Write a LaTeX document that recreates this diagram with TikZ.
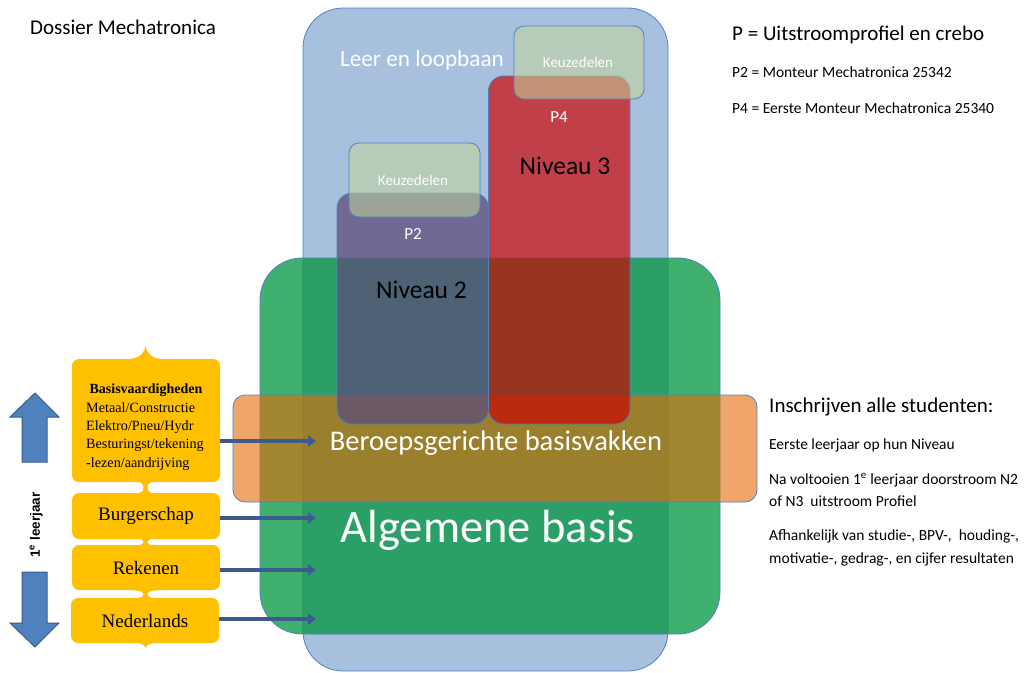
\documentclass[tikz,border=0pt]{standalone}
\usepackage{fontspec}
\setmainfont{Carlito}
\newfontfamily\camb{Liberation Serif}
\newfontfamily\arl{Liberation Sans}
\usetikzlibrary{fit,arrows.meta}
\definecolor{bluef}{RGB}{79,129,189}
\definecolor{greenf}{RGB}{0,150,63}
\definecolor{orangef}{RGB}{230,107,7}
\definecolor{redf}{RGB}{204,0,0}
\definecolor{purplef}{RGB}{92,77,122}
\definecolor{keuzef}{RGB}{195,214,155}
\definecolor{yel}{RGB}{255,192,0}
\definecolor{arrowc}{RGB}{60,90,140}
\definecolor{edgec}{RGB}{79,129,189}
\definecolor{bigarrowedge}{RGB}{56,93,138}
\tikzset{
  region/.style={fit={#1}, inner sep=0pt, draw=edgec, line width=0.8pt},
  ybox/.style={fit={#1}, inner sep=0pt, fill=yel, rounded corners=7pt},
  wlabel/.style={text=white, inner sep=0pt, anchor=base},
  blabel/.style={text=black, inner sep=0pt, anchor=base},
  sidetext/.style={text=black, inner sep=0pt, anchor=base west},
  conn/.style={draw=arrowc, line width=4pt, -{Triangle[length=8pt,width=11pt]}},
  bigarrow/.style={fill=bluef, draw=bigarrowedge, line width=1pt},
}
\newcommand{\neck}[2]{%
  \fill[yel] (128,#1) .. controls (141,#1) and (143.5,#1+2) .. (143.5,{(#1+#2)/2})
    .. controls (143.5,#2-2) and (141,#2) .. (128,#2) -- (163,#2)
    .. controls (150,#2) and (147.5,#2-2) .. (147.5,{(#1+#2)/2})
    .. controls (147.5,#1+2) and (150,#1) .. (163,#1) -- cycle;}
\begin{document}
\begin{tikzpicture}[x=1pt,y=-1pt]
\useasboundingbox (0,0) rectangle (1025,672);
% big regions
\node[region={(303,8) (668,671)}, fill=bluef, fill opacity=0.5, rounded corners=40pt] (ll) {};
\node[region={(260,258) (720,634)}, fill=greenf, fill opacity=0.75, rounded corners=42pt] (ab) {};
\node[region={(233,395) (757,502)}, fill=orangef, fill opacity=0.6, rounded corners=12pt] (bb) {};
\node[region={(337,193) (488.5,424)}, fill=purplef, fill opacity=0.75, rounded corners=15pt] (n2) {};
\node[region={(488.5,76) (630,424)}, fill=redf, fill opacity=0.67, rounded corners=15pt] (n3) {};
\node[region={(349,143) (480,217)}, fill=keuzef, fill opacity=0.55, rounded corners=10pt] (k2) {};
\node[region={(514,26) (644,99)}, fill=keuzef, fill opacity=0.55, rounded corners=10pt] (k4) {};
% labels in regions
\node[wlabel, font=\fontsize{23.2}{26}\selectfont] (llt) at (422,66.5) {Leer en loopbaan};
\node[wlabel, font=\fontsize{15}{18}\selectfont] (k4t) at (578,67.5) {Keuzedelen};
\node[wlabel, font=\fontsize{15}{18}\selectfont] (k2t) at (413,185.5) {Keuzedelen};
\node[wlabel, font=\fontsize{17}{20}\selectfont] (p4) at (559,122) {P4};
\node[wlabel, font=\fontsize{17}{20}\selectfont] (p2) at (413,239) {P2};
\node[blabel, font=\fontsize{25.5}{30}\selectfont] (n3t) at (565,174) {Niveau 3};
\node[blabel, font=\fontsize{25.5}{30}\selectfont] (n2t) at (421.5,298) {Niveau 2};
\node[wlabel, font=\fontsize{28.5}{32}\selectfont] (bbt) at (496,450) {Beroepsgerichte basisvakken};
\node[wlabel, font=\fontsize{46.5}{50}\selectfont] (abt) at (488,542) {Algemene basis};
% yellow list
\fill[yel] (130,359) .. controls (140,358) and (145,352) .. (145.5,346) .. controls (146,352) and (151,358) .. (161,359) -- cycle;
\neck{481}{494}
\neck{538}{546}
\neck{590}{598.5}
\fill[yel] (132,642) .. controls (141,643) and (145,645) .. (145.5,648) .. controls (146,645) and (150,643) .. (159,642) -- cycle;
\node[ybox={(72,359) (220,482)}] (basis) {};
\node[ybox={(72,493) (220,539)}] (burg) {};
\node[ybox={(72,545) (220,590)}] (rek) {};
\node[ybox={(71,598) (219,643)}] (ned) {};
\node[inner sep=0pt, anchor=base, font=\camb\bfseries\fontsize{14}{16}\selectfont] (basist) at (146,393) {Basisvaardigheden};
\node[inner sep=0pt, anchor=north west, align=left, font=\camb\fontsize{14.2}{18.4}\selectfont] (basisl) at (86,402) {Metaal/Constructie\\Elektro/Pneu/Hydr\\Besturingst/tekening\\-lezen/aandrijving};
\node[inner sep=0pt, font=\camb\fontsize{19}{22}\selectfont] (burgt) at (burg) {Burgerschap};
\node[inner sep=0pt, font=\camb\fontsize{19}{22}\selectfont] (rekt) at (rek) {Rekenen};
\node[inner sep=0pt, font=\camb\fontsize{19}{22}\selectfont] (nedt) at (ned) {Nederlands};
% connectors
\coordinate (e1) at (316,441);
\coordinate (e2) at (316,518);
\coordinate (e3) at (316,570);
\coordinate (e4) at (316,619);
\draw[conn] (basis.east |- e1) -- (e1);
\draw[conn] (burg.east |- e2) -- (e2);
\draw[conn] (rek.east |- e3) -- (e3);
\draw[conn] (ned.east |- e4) -- (e4);
% big arrows
\draw[bigarrow] (35,393) -- (59,417) -- (47,417) -- (47,462) -- (22,462) -- (22,417) -- (10,417) -- cycle;
\draw[bigarrow] (22,572) -- (47,572) -- (47,623) -- (59,623) -- (35,647) -- (10,623) -- (22,623) -- cycle;
\node[rotate=90, inner sep=0pt, font=\arl\bfseries\fontsize{13.5}{16}\selectfont] (lj) at (36,525) {1\textsuperscript{e} leerjaar};
% side texts
\node[sidetext, font=\fontsize{21}{24}\selectfont] (title) at (30,34.5) {Dossier Mechatronica};
\node[sidetext, font=\fontsize{21}{24}\selectfont] (leg) at (732,40) {P = Uitstroomprofiel en crebo};
\node[sidetext, font=\fontsize{15.5}{18}\selectfont] (leg2) at (732,77) {P2 = Monteur Mechatronica 25342};
\node[sidetext, font=\fontsize{15.5}{18}\selectfont] (leg4) at (732,113) {P4 = Eerste Monteur Mechatronica 25340};
\node[sidetext, font=\fontsize{21}{24}\selectfont] (ins) at (769,412) {Inschrijven alle studenten:};
\node[sidetext, font=\fontsize{15.5}{18}\selectfont] (ins1) at (769,449) {Eerste leerjaar op hun Niveau};
\node[sidetext, font=\fontsize{15.5}{18}\selectfont] (ins2) at (769,484) {Na voltooien 1\textsuperscript{e} leerjaar doorstroom N2};
\node[sidetext, font=\fontsize{15.5}{18}\selectfont] (ins3) at (769,506) {of N3\ \ uitstroom Profiel};
\node[sidetext, font=\fontsize{15.5}{18}\selectfont] (ins4) at (769,540) {Afhankelijk van studie-, BPV-,\ \ houding-,};
\node[sidetext, font=\fontsize{15.5}{18}\selectfont] (ins5) at (769,563) {motivatie-, gedrag-, en cijfer resultaten};
\end{tikzpicture}
\end{document}
